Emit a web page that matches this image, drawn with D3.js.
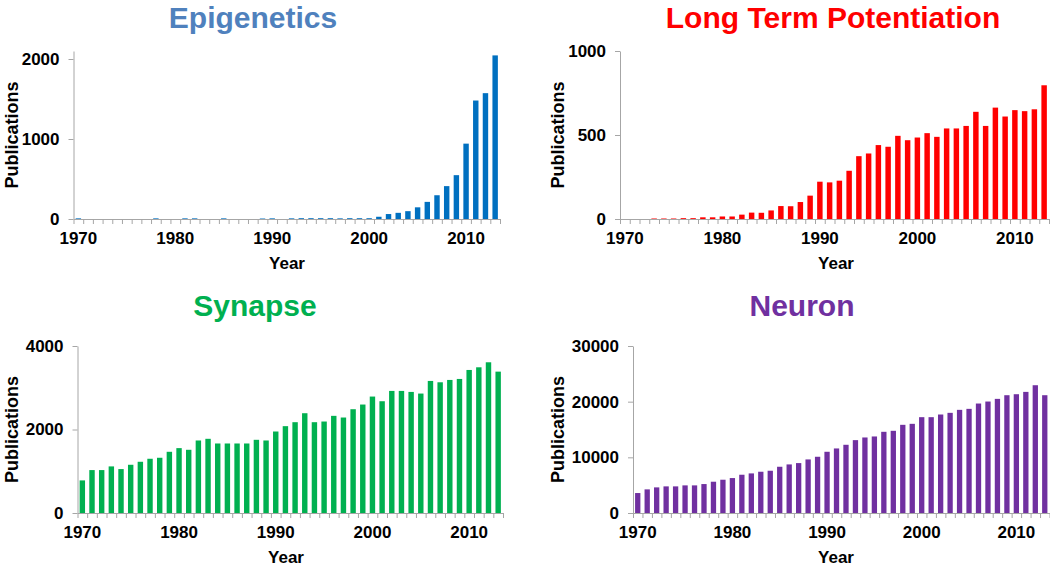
<!DOCTYPE html>
<html>
<head>
<meta charset="utf-8">
<script src="https://cdn.jsdelivr.net/npm/d3@7"></script>
<style>
  html, body { margin: 0; padding: 0; background: #fff; }
  svg { display: block; font-family: "Liberation Sans", Arial, sans-serif; }
</style>
</head>
<body>
<svg id="chart" width="1050" height="567"></svg>
<script>
// ---------- data ----------
const years = d3.range(1970, 2014);
const yearLabels = [1970, 1980, 1990, 2000, 2010];

const epigenetics = [8,0,0,0,0,0,0,0,8,0, 0,8,8,0,0,8,0,0,0,6,
                     8,0,8,10,10,10,10,8,10,10, 10,28,62,77,98,146,214,297,411,548,
                     942,1481,1573,2045];
const ltp = [0,0,0,3,3,3,5,5,10,10, 15,15,26,38,37,51,77,76,101,139,
             222,218,228,287,374,390,440,430,495,469, 485,511,489,539,539,554,638,554,663,610,
             648,642,653,796];
const synapse = [781,1028,1028,1116,1052,1155,1227,1299,1323,1466, 1554,1514,1737,1777,1665,1665,1665,1665,1753,1737,
                 1952,2080,2175,2390,2175,2191,2327,2287,2486,2598, 2789,2677,2924,2924,2900,2861,3163,3131,3187,3211,
                 3426,3490,3610,3386];
const neuron = [3586,4244,4602,4782,4782,4961,4961,5200,5619,5977, 6276,6874,7113,7412,7591,8308,8727,8966,9623,10102,
                10998,11596,12254,13090,13568,13748,14585,14764,15840,16019, 17214,17214,17693,17992,18530,18709,19665,20024,20502,21160,
                21339,21757,22953,21160];

const titles = ["Epigenetics", "Long Term Potentiation", "Synapse", "Neuron"];
const yTicks = [[0, 1000, 2000], [0, 500, 1000], [0, 2000, 4000], [0, 10000, 20000, 30000]];
const yMax = [2100, 1000, 4000, 30000];
const seriesList = [epigenetics, ltp, synapse, neuron];

// ---------- layout ----------
const panels = [
  {x0: 73.5, x1: 500,  yTop: 51,  yBot: 219, titleX: 253, titleY: 28,  axTitleX: 12,  yearX: 287, bar: "#0070C0", title: "#4F81BD"},
  {x0: 620,  x1: 1049, yTop: 51,  yBot: 219, titleX: 833, titleY: 28,  axTitleX: 558, yearX: 836, bar: "#FF0000", title: "#FF0000"},
  {x0: 77.5, x1: 503,  yTop: 346, yBot: 513, titleX: 255, titleY: 316, axTitleX: 12,  yearX: 286, bar: "#00B050", title: "#00B050"},
  {x0: 633,  x1: 1049.5, yTop: 346, yBot: 513, titleX: 802, titleY: 316, axTitleX: 558, yearX: 836, bar: "#7030A0", title: "#7030A0"}
];

const svg = d3.select("#chart");
const axisGray = "#a6a6a6";

panels.forEach((p, i) => {
  const data = seriesList[i];
  const g = svg.append("g");

  const x = d3.scaleBand().domain(years).range([p.x0, p.x1]).paddingInner(0.44).paddingOuter(0.22);
  const xb = d3.scaleLinear().domain([0, years.length]).range([p.x0, p.x1]);
  const y = d3.scaleLinear().domain([0, yMax[i]]).range([p.yBot, p.yTop]);

  // bars
  g.selectAll("rect").data(data).join("rect")
    .attr("x", (d, j) => x(years[j]))
    .attr("width", x.bandwidth())
    .attr("y", d => y(d))
    .attr("height", d => p.yBot - y(d))
    .attr("fill", p.bar);

  // x axis: boundary tick marks
  const xa = g.append("g").attr("transform", `translate(0,${p.yBot})`)
    .call(d3.axisBottom(xb).tickValues(d3.range(0, years.length + 1)).tickFormat("").tickSize(5).tickSizeOuter(0));
  xa.select(".domain").attr("stroke", axisGray);
  xa.selectAll(".tick line").attr("stroke", axisGray);

  // x labels (centered on bars)
  const xl = g.append("g").attr("transform", `translate(0,${p.yBot})`)
    .call(d3.axisBottom(x).tickValues(yearLabels).tickSize(0).tickPadding(13));
  xl.select(".domain").remove();
  xl.selectAll("text").attr("font-size", 17).attr("font-weight", "bold")
    .attr("font-family", "Liberation Sans, Arial, sans-serif").attr("fill", "#000");

  // y axis
  const ya = g.append("g").attr("transform", `translate(${p.x0},0)`)
    .call(d3.axisLeft(y).tickValues(yTicks[i]).tickSize(5).tickSizeOuter(0).tickPadding(9).tickFormat(d3.format("d")));
  ya.select(".domain").attr("stroke", axisGray);
  ya.selectAll(".tick line").attr("stroke", axisGray);
  ya.selectAll("text").attr("font-size", 17).attr("font-weight", "bold")
    .attr("font-family", "Liberation Sans, Arial, sans-serif").attr("fill", "#000");

  // title
  g.append("text").attr("x", p.titleX).attr("y", p.titleY)
    .attr("text-anchor", "middle").attr("font-size", 30).attr("font-weight", "bold")
    .attr("fill", p.title).text(titles[i]);

  // axis titles
  g.append("text").attr("x", p.yearX).attr("y", p.yBot + 50)
    .attr("text-anchor", "middle").attr("font-size", 17).attr("font-weight", "bold")
    .text("Year");

  g.append("text")
    .attr("transform", `translate(${p.axTitleX + 6},${(p.yTop + p.yBot) / 2}) rotate(-90)`)
    .attr("text-anchor", "middle").attr("font-size", 18).attr("font-weight", "bold")
    .text("Publications");
});
</script>
</body>
</html>
